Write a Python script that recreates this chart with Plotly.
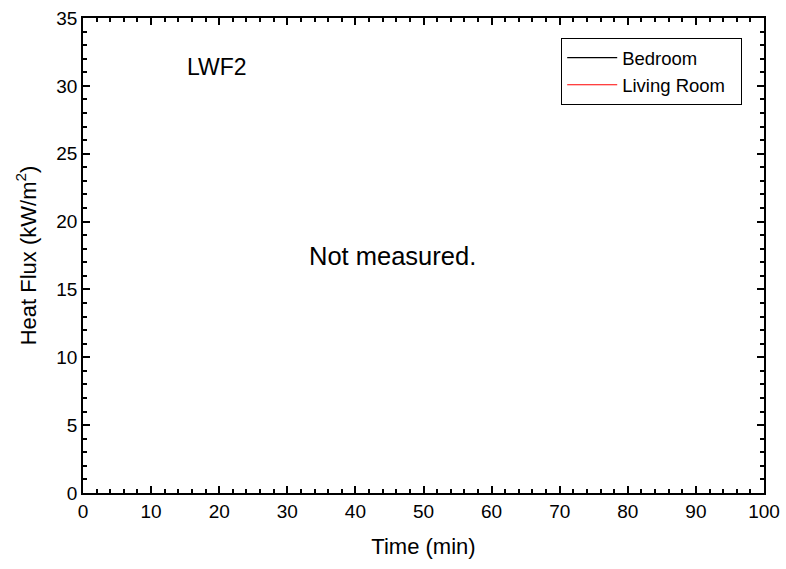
import plotly.graph_objects as go

# Data (no measurements available for this test)
time_min = []
bedroom_flux = []
living_room_flux = []

series_names = ["Bedroom", "Living Room"]
series_colors = ["black", "red"]

x_ticks = [0, 10, 20, 30, 40, 50, 60, 70, 80, 90, 100]
y_ticks = [0, 5, 10, 15, 20, 25, 30, 35]

font_family = "Liberation Sans, Arial, sans-serif"
pad = "\u00a0\u00a0"  # right padding inside the legend box

fig = go.Figure()
for name, color, ys in zip(series_names, series_colors, [bedroom_flux, living_room_flux]):
    fig.add_trace(go.Scatter(
        x=time_min if time_min else [None], y=ys if ys else [None],
        mode="lines", name=name + pad, line=dict(color=color, width=1.2),
    ))

axis_common = dict(
    showline=True, linecolor="black", linewidth=1.5, mirror="ticks",
    ticks="inside", ticklen=7, tickwidth=1.5, tickcolor="black",
    showgrid=False, zeroline=False, automargin=False,
    tickfont=dict(size=19, color="black", family=font_family),
)

fig.update_xaxes(
    range=[0, 100], tickvals=x_ticks, ticktext=[str(v) for v in x_ticks],
    minor=dict(dtick=2, ticks="inside", ticklen=4, tickwidth=1.5, tickcolor="black", showgrid=False),
    title=dict(text="Time (min)", font=dict(size=22, color="black", family=font_family), standoff=18),
    **axis_common,
)
fig.update_yaxes(
    range=[0, 35], tickvals=y_ticks, ticktext=[str(v) for v in y_ticks],
    minor=dict(dtick=1, ticks="inside", ticklen=4, tickwidth=1.5, tickcolor="black", showgrid=False),
    title=dict(text="Heat Flux (kW/m<sup>2</sup>)", font=dict(size=22, color="black", family=font_family), standoff=14),
    **axis_common,
)

fig.add_annotation(x=15, y=31.4, xref="x", yref="y", text="LWF2", showarrow=False,
                   xanchor="left", yanchor="middle",
                   font=dict(size=23, color="black", family=font_family))
fig.add_annotation(x=45.4, y=17.5, xref="x", yref="y", text="Not measured.", showarrow=False,
                   xanchor="center", yanchor="middle",
                   font=dict(size=25.5, color="black", family=font_family))

fig.update_layout(
    width=786, height=569,
    margin=dict(l=83, r=22, t=18, b=76),
    paper_bgcolor="white", plot_bgcolor="white",
    legend=dict(x=0.9677, y=0.958, xanchor="right", yanchor="top",
                bordercolor="black", borderwidth=1.2, bgcolor="white",
                font=dict(size=18.5, color="black", family=font_family),
                itemwidth=50, tracegroupgap=0),
    showlegend=True,
)

fig.write_html("out.html", config={"displayModeBar": False},
               post_script="document.body.style.margin='0';document.body.style.padding='0';")
